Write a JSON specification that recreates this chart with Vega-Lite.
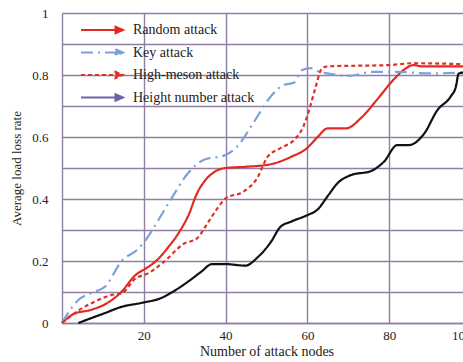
{
  "$schema": "https://vega.github.io/schema/vega-lite/v6.json",
  "autosize": {"type": "none"},
  "padding": {"left": 62, "top": 13, "right": 0, "bottom": 39},
  "width": 401,
  "height": 310,
  "background": "white",
  "config": {
    "font": "Liberation Serif",
    "view": {"stroke": null},
    "axis": {
      "labelFont": "Liberation Serif",
      "titleFont": "Liberation Serif",
      "labelFontSize": 13,
      "titleFontSize": 13,
      "titleFontWeight": "normal",
      "labelColor": "#222222",
      "titleColor": "#222222",
      "gridColor": "#8e7fa3",
      "gridWidth": 1.4,
      "gridOpacity": 1,
      "domainColor": "#8e7fa3",
      "domainWidth": 1.4,
      "ticks": false
    },
    "legend": {
      "labelFont": "Liberation Serif",
      "labelFontSize": 14,
      "labelColor": "#222222"
    }
  },
  "data": {
    "values": [
      {"x": 0, "y": 0, "s": "Random attack"},
      {"x": 3, "y": 0.03, "s": "Random attack"},
      {"x": 7, "y": 0.042, "s": "Random attack"},
      {"x": 11, "y": 0.064, "s": "Random attack"},
      {"x": 14.5, "y": 0.1, "s": "Random attack"},
      {"x": 18, "y": 0.155, "s": "Random attack"},
      {"x": 20.5, "y": 0.176, "s": "Random attack"},
      {"x": 23, "y": 0.2, "s": "Random attack"},
      {"x": 26, "y": 0.245, "s": "Random attack"},
      {"x": 28.5, "y": 0.29, "s": "Random attack"},
      {"x": 31, "y": 0.35, "s": "Random attack"},
      {"x": 33, "y": 0.418, "s": "Random attack"},
      {"x": 35, "y": 0.46, "s": "Random attack"},
      {"x": 37, "y": 0.485, "s": "Random attack"},
      {"x": 40, "y": 0.5, "s": "Random attack"},
      {"x": 45, "y": 0.504, "s": "Random attack"},
      {"x": 51, "y": 0.512, "s": "Random attack"},
      {"x": 56, "y": 0.536, "s": "Random attack"},
      {"x": 60, "y": 0.565, "s": "Random attack"},
      {"x": 62.5, "y": 0.6, "s": "Random attack"},
      {"x": 65, "y": 0.628, "s": "Random attack"},
      {"x": 69.5, "y": 0.628, "s": "Random attack"},
      {"x": 73, "y": 0.66, "s": "Random attack"},
      {"x": 77, "y": 0.72, "s": "Random attack"},
      {"x": 81, "y": 0.784, "s": "Random attack"},
      {"x": 83.5, "y": 0.816, "s": "Random attack"},
      {"x": 86, "y": 0.832, "s": "Random attack"},
      {"x": 88, "y": 0.828, "s": "Random attack"},
      {"x": 100, "y": 0.828, "s": "Random attack"},

      {"x": 0, "y": 0, "s": "Key attack"},
      {"x": 4, "y": 0.074, "s": "Key attack"},
      {"x": 7, "y": 0.096, "s": "Key attack"},
      {"x": 10.5, "y": 0.117, "s": "Key attack"},
      {"x": 14.6, "y": 0.2, "s": "Key attack"},
      {"x": 18.7, "y": 0.24, "s": "Key attack"},
      {"x": 21, "y": 0.278, "s": "Key attack"},
      {"x": 23, "y": 0.32, "s": "Key attack"},
      {"x": 27, "y": 0.407, "s": "Key attack"},
      {"x": 30.6, "y": 0.48, "s": "Key attack"},
      {"x": 34.6, "y": 0.526, "s": "Key attack"},
      {"x": 40, "y": 0.542, "s": "Key attack"},
      {"x": 42.8, "y": 0.569, "s": "Key attack"},
      {"x": 47, "y": 0.65, "s": "Key attack"},
      {"x": 51, "y": 0.73, "s": "Key attack"},
      {"x": 54.2, "y": 0.768, "s": "Key attack"},
      {"x": 56.7, "y": 0.775, "s": "Key attack"},
      {"x": 58.7, "y": 0.816, "s": "Key attack"},
      {"x": 60.8, "y": 0.822, "s": "Key attack"},
      {"x": 63, "y": 0.81, "s": "Key attack"},
      {"x": 65, "y": 0.805, "s": "Key attack"},
      {"x": 70, "y": 0.797, "s": "Key attack"},
      {"x": 76, "y": 0.81, "s": "Key attack"},
      {"x": 82, "y": 0.81, "s": "Key attack"},
      {"x": 90, "y": 0.805, "s": "Key attack"},
      {"x": 100, "y": 0.81, "s": "Key attack"},

      {"x": 0, "y": 0, "s": "High-meson attack"},
      {"x": 4.8, "y": 0.047, "s": "High-meson attack"},
      {"x": 8, "y": 0.069, "s": "High-meson attack"},
      {"x": 12, "y": 0.09, "s": "High-meson attack"},
      {"x": 14.6, "y": 0.096, "s": "High-meson attack"},
      {"x": 18, "y": 0.144, "s": "High-meson attack"},
      {"x": 21, "y": 0.16, "s": "High-meson attack"},
      {"x": 25, "y": 0.198, "s": "High-meson attack"},
      {"x": 29.7, "y": 0.255, "s": "High-meson attack"},
      {"x": 33, "y": 0.273, "s": "High-meson attack"},
      {"x": 35.5, "y": 0.32, "s": "High-meson attack"},
      {"x": 38, "y": 0.37, "s": "High-meson attack"},
      {"x": 40, "y": 0.402, "s": "High-meson attack"},
      {"x": 44.4, "y": 0.424, "s": "High-meson attack"},
      {"x": 47.7, "y": 0.467, "s": "High-meson attack"},
      {"x": 50.2, "y": 0.535, "s": "High-meson attack"},
      {"x": 53.4, "y": 0.564, "s": "High-meson attack"},
      {"x": 56.7, "y": 0.59, "s": "High-meson attack"},
      {"x": 59, "y": 0.633, "s": "High-meson attack"},
      {"x": 60.5, "y": 0.69, "s": "High-meson attack"},
      {"x": 62, "y": 0.76, "s": "High-meson attack"},
      {"x": 63.5, "y": 0.82, "s": "High-meson attack"},
      {"x": 65, "y": 0.828, "s": "High-meson attack"},
      {"x": 80, "y": 0.832, "s": "High-meson attack"},
      {"x": 86, "y": 0.838, "s": "High-meson attack"},
      {"x": 100, "y": 0.834, "s": "High-meson attack"},

      {"x": 4, "y": 0, "s": "Height number attack"},
      {"x": 7, "y": 0.015, "s": "Height number attack"},
      {"x": 10.5, "y": 0.032, "s": "Height number attack"},
      {"x": 14.5, "y": 0.052, "s": "Height number attack"},
      {"x": 19.5, "y": 0.065, "s": "Height number attack"},
      {"x": 24.5, "y": 0.082, "s": "Height number attack"},
      {"x": 27, "y": 0.1, "s": "Height number attack"},
      {"x": 31.5, "y": 0.14, "s": "Height number attack"},
      {"x": 34, "y": 0.165, "s": "Height number attack"},
      {"x": 36.7, "y": 0.19, "s": "Height number attack"},
      {"x": 40, "y": 0.19, "s": "Height number attack"},
      {"x": 44.8, "y": 0.185, "s": "Height number attack"},
      {"x": 48, "y": 0.214, "s": "Height number attack"},
      {"x": 51, "y": 0.26, "s": "Height number attack"},
      {"x": 53.4, "y": 0.31, "s": "Height number attack"},
      {"x": 56, "y": 0.327, "s": "Height number attack"},
      {"x": 60, "y": 0.348, "s": "Height number attack"},
      {"x": 62.4, "y": 0.365, "s": "Height number attack"},
      {"x": 65, "y": 0.41, "s": "Height number attack"},
      {"x": 67.3, "y": 0.45, "s": "Height number attack"},
      {"x": 70.6, "y": 0.477, "s": "Height number attack"},
      {"x": 75.5, "y": 0.49, "s": "Height number attack"},
      {"x": 78.7, "y": 0.52, "s": "Height number attack"},
      {"x": 82, "y": 0.574, "s": "Height number attack"},
      {"x": 84.8, "y": 0.574, "s": "Height number attack"},
      {"x": 88.5, "y": 0.61, "s": "Height number attack"},
      {"x": 91.8, "y": 0.687, "s": "Height number attack"},
      {"x": 95, "y": 0.73, "s": "Height number attack"},
      {"x": 96.3, "y": 0.762, "s": "Height number attack"},
      {"x": 97, "y": 0.805, "s": "Height number attack"},
      {"x": 100, "y": 0.81, "s": "Height number attack"}
    ]
  },
  "mark": {"type": "line", "interpolate": "monotone", "strokeWidth": 2.2},
  "encoding": {
    "x": {
      "field": "x",
      "type": "quantitative",
      "scale": {"domain": [0, 100], "range": [0, 409], "nice": false},
      "axis": {
        "values": [20, 40, 60, 80, 100],
        "title": "Number of attack nodes",
        "titleFontSize": 14,
        "labelPadding": 6,
        "titlePadding": 2,
        "labelAlign": {"condition": {"test": "datum.value == 100", "value": "right"}, "value": "center"}
      }
    },
    "y": {
      "field": "y",
      "type": "quantitative",
      "scale": {"domain": [0, 1], "nice": false},
      "axis": {
        "values": [0, 0.1, 0.2, 0.3, 0.4, 0.5, 0.6, 0.7, 0.8, 0.9, 1],
        "labelExpr": "(round(datum.value * 10) % 2 == 0) ? format(datum.value, '~g') : ''",
        "title": "Average load loss rate",
        "labelPadding": 14,
        "titlePadding": 8
      }
    },
    "color": {
      "condition": {"test": "datum.s === 'Height number attack'", "value": "#111111"},
      "field": "s",
      "type": "nominal",
      "scale": {
        "domain": ["Random attack", "Key attack", "High-meson attack", "Height number attack"],
        "range": ["#e42a20", "#7f9fd8", "#dc3128", "#7262a6"]
      },
      "legend": {
        "title": null,
        "orient": "none",
        "legendX": 33,
        "legendY": 10,
        "padding": 0,
        "rowPadding": 6.5,
        "symbolType": "M-4.2,0L3,0M2.7,-0.65L4.2,0L2.7,0.65Z",
        "symbolSize": 100,
        "symbolStrokeWidth": 2,
        "labelOffset": 24,
        "encode": {
          "symbols": {
            "update": {
              "stroke": {"signal": "scale('color', datum.value)"},
              "fill": {"signal": "scale('color', datum.value)"}
            }
          }
        }
      }
    },
    "strokeDash": {
      "field": "s",
      "type": "nominal",
      "scale": {
        "domain": ["Random attack", "Key attack", "High-meson attack", "Height number attack"],
        "range": [[1, 0], [12, 5, 2, 5], [4, 3], [1, 0]]
      },
      "legend": null
    }
  }
}
